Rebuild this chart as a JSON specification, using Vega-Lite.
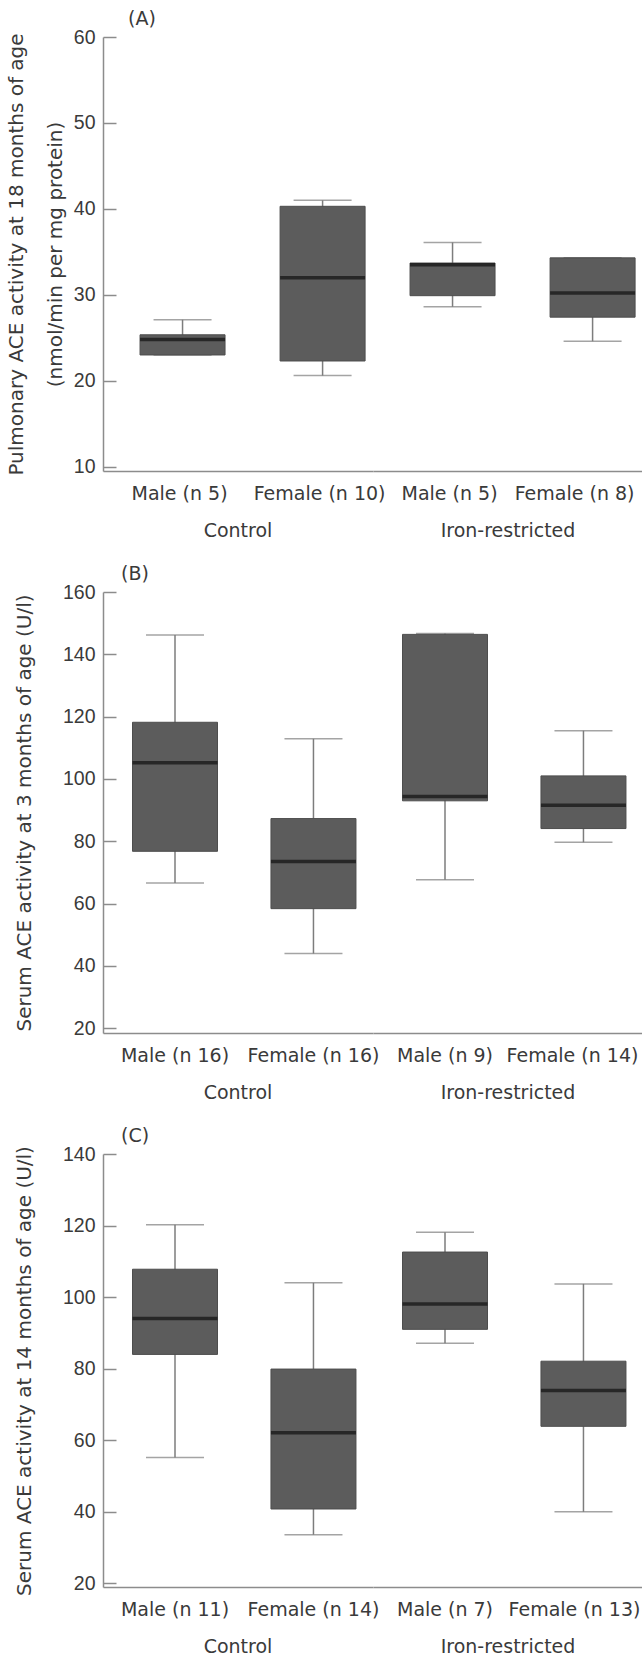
{
  "$schema": "https://vega.github.io/schema/vega-lite/v6.json",
  "padding": {"left": 6, "top": 10, "right": 0, "bottom": 0},
  "config": {
    "view": {"stroke": null},
    "font": "DejaVu Sans",
    "axis": {"domainColor": "#8c8c8c", "domainWidth": 1.5, "tickColor": "#8c8c8c", "tickWidth": 1.5, "labelColor": "#3a3a3a", "titleColor": "#3a3a3a", "grid": false, "titleFontWeight": "normal"},
    "axisX": {"ticks": false, "labelAngle": 0, "labelFontSize": 19, "labelPadding": 13, "labelFont": "DejaVu Sans"},
    "axisY": {"tickSize": -13, "labelFontSize": 19.5, "labelFont": "Liberation Sans", "labelPadding": 21, "titleFontSize": 20, "titleFont": "DejaVu Sans"},
    "header": {"labelFontSize": 19, "labelColor": "#3a3a3a", "labelFont": "DejaVu Sans", "labelPadding": 51},
    "title": {"fontSize": 19, "fontWeight": "normal", "anchor": "start", "frame": "group", "color": "#3a3a3a", "font": "DejaVu Sans", "offset": 4}
  },
  "datasets": {
    "A": [
      {"group": "Control", "label": "Male (n 5)", "min": 23.0, "q1": 23.0, "median": 24.8, "q3": 25.35, "max": 27.1},
      {"group": "Control", "label": "Female (n 10)", "min": 20.6, "q1": 22.3, "median": 32.0, "q3": 40.3, "max": 41.0},
      {"group": "Iron-restricted", "label": "Male (n 5)", "min": 28.6, "q1": 29.9, "median": 33.5, "q3": 33.7, "max": 36.1},
      {"group": "Iron-restricted", "label": "Female (n 8)", "min": 24.6, "q1": 27.4, "median": 30.2, "q3": 34.3, "max": 34.3}
    ],
    "B": [
      {"group": "Control", "label": "Male (n 16)", "min": 66.6, "q1": 76.8, "median": 105.2, "q3": 118.2, "max": 146.2},
      {"group": "Control", "label": "Female (n 16)", "min": 44.0, "q1": 58.4, "median": 73.5, "q3": 87.3, "max": 112.9},
      {"group": "Iron-restricted", "label": "Male (n 9)", "min": 67.7, "q1": 93.0, "median": 94.4, "q3": 146.4, "max": 146.7},
      {"group": "Iron-restricted", "label": "Female (n 14)", "min": 79.7, "q1": 84.1, "median": 91.6, "q3": 101.0, "max": 115.5}
    ],
    "C": [
      {"group": "Control", "label": "Male (n 11)", "min": 55.2, "q1": 84.0, "median": 94.0, "q3": 107.8, "max": 120.2},
      {"group": "Control", "label": "Female (n 14)", "min": 33.6, "q1": 40.8, "median": 62.1, "q3": 79.9, "max": 104.0},
      {"group": "Iron-restricted", "label": "Male (n 7)", "min": 87.1, "q1": 91.0, "median": 98.1, "q3": 112.6, "max": 118.1},
      {"group": "Iron-restricted", "label": "Female (n 13)", "min": 40.0, "q1": 63.9, "median": 73.9, "q3": 82.1, "max": 103.7}
    ]
  },
  "resolve": {"scale": {"x": "independent", "y": "independent"}},
  "spacing": 24,
  "vconcat": [
    {
      "data": {"name": "A"},
      "title": {"text": "(A)", "dx": 25, "dy": 6},
      "spacing": {"column": 0},
      "bounds": "flush",
      "resolve": {"scale": {"x": "independent"}},
      "facet": {"column": {"field": "group", "type": "nominal", "title": null, "sort": ["Control", "Iron-restricted"], "header": {"labelOrient": "bottom"}}},
      "spec": {
        "width": 270,
        "height": 434,
        "encoding": {
          "x": {"field": "label", "type": "nominal", "sort": null, "title": null,
                "scale": {"paddingInner": 0.28, "paddingOuter": 0.104, "align": 1},
                "axis": {"labelOffset": {"condition": {"test": "datum.value === 'Female (n 8)'", "value": -18}, "value": -3}}}
        },
        "layer": [
          {"mark": {"type": "rule", "color": "#7d7d7d", "strokeWidth": 1.5},
           "encoding": {"y": {"field": "min", "type": "quantitative", "scale": {"domain": [9.5, 60], "nice": false, "zero": false},
                              "axis": {"values": [10, 20, 30, 40, 50, 60], "title": ["Pulmonary ACE activity at 18 months of age", "(nmol/min per mg protein)"], "titlePadding": 8, "titleLineHeight": 39}},
                        "y2": {"field": "max"}}},
          {"mark": {"type": "tick", "color": "#7d7d7d", "thickness": 1.5, "size": 58},
           "encoding": {"y": {"field": "min", "type": "quantitative"}}},
          {"mark": {"type": "tick", "color": "#7d7d7d", "thickness": 1.5, "size": 58},
           "encoding": {"y": {"field": "max", "type": "quantitative"}}},
          {"mark": {"type": "bar", "size": 85, "color": "#5c5c5c", "stroke": "#4d4d4d", "strokeWidth": 1},
           "encoding": {"y": {"field": "q1", "type": "quantitative"}, "y2": {"field": "q3"}}},
          {"mark": {"type": "tick", "color": "#111111", "thickness": 3.5, "size": 85},
           "encoding": {"y": {"field": "median", "type": "quantitative"}}}
        ]
      }
    },
    {
      "data": {"name": "B"},
      "title": {"text": "(B)", "dx": 18, "dy": 6},
      "spacing": {"column": 0},
      "bounds": "flush",
      "resolve": {"scale": {"x": "independent"}},
      "facet": {"column": {"field": "group", "type": "nominal", "title": null, "sort": ["Control", "Iron-restricted"], "header": {"labelOrient": "bottom"}}},
      "spec": {
        "width": 270,
        "height": 441,
        "encoding": {
          "x": {"field": "label", "type": "nominal", "sort": null, "title": null,
                "scale": {"paddingInner": 0.14, "paddingOuter": 0.045, "align": 1},
                "axis": {"labelOffset": {"condition": {"test": "datum.value === 'Female (n 14)'", "value": -11}, "value": 0}}}
        },
        "layer": [
          {"mark": {"type": "rule", "color": "#7d7d7d", "strokeWidth": 1.5},
           "encoding": {"y": {"field": "min", "type": "quantitative", "scale": {"domain": [18.5, 160], "nice": false, "zero": false},
                              "axis": {"values": [20, 40, 60, 80, 100, 120, 140, 160], "title": "Serum ACE activity at 3 months of age (U/l)", "titlePadding": 28}},
                        "y2": {"field": "max"}}},
          {"mark": {"type": "tick", "color": "#7d7d7d", "thickness": 1.5, "size": 58},
           "encoding": {"y": {"field": "min", "type": "quantitative"}}},
          {"mark": {"type": "tick", "color": "#7d7d7d", "thickness": 1.5, "size": 58},
           "encoding": {"y": {"field": "max", "type": "quantitative"}}},
          {"mark": {"type": "bar", "size": 85, "color": "#5c5c5c", "stroke": "#4d4d4d", "strokeWidth": 1},
           "encoding": {"y": {"field": "q1", "type": "quantitative"}, "y2": {"field": "q3"}}},
          {"mark": {"type": "tick", "color": "#111111", "thickness": 3.5, "size": 85},
           "encoding": {"y": {"field": "median", "type": "quantitative"}}}
        ]
      }
    },
    {
      "data": {"name": "C"},
      "title": {"text": "(C)", "dx": 18, "dy": 6},
      "spacing": {"column": 0},
      "bounds": "flush",
      "resolve": {"scale": {"x": "independent"}},
      "facet": {"column": {"field": "group", "type": "nominal", "title": null, "sort": ["Control", "Iron-restricted"], "header": {"labelOrient": "bottom"}}},
      "spec": {
        "width": 270,
        "height": 433,
        "encoding": {
          "x": {"field": "label", "type": "nominal", "sort": null, "title": null,
                "scale": {"paddingInner": 0.14, "paddingOuter": 0.045, "align": 1},
                "axis": {"labelOffset": {"condition": {"test": "datum.value === 'Female (n 13)'", "value": -9}, "value": 0}}}
        },
        "layer": [
          {"mark": {"type": "rule", "color": "#7d7d7d", "strokeWidth": 1.5},
           "encoding": {"y": {"field": "min", "type": "quantitative", "scale": {"domain": [19, 140], "nice": false, "zero": false},
                              "axis": {"values": [20, 40, 60, 80, 100, 120, 140], "title": "Serum ACE activity at 14 months of age (U/l)", "titlePadding": 28}},
                        "y2": {"field": "max"}}},
          {"mark": {"type": "tick", "color": "#7d7d7d", "thickness": 1.5, "size": 58},
           "encoding": {"y": {"field": "min", "type": "quantitative"}}},
          {"mark": {"type": "tick", "color": "#7d7d7d", "thickness": 1.5, "size": 58},
           "encoding": {"y": {"field": "max", "type": "quantitative"}}},
          {"mark": {"type": "bar", "size": 85, "color": "#5c5c5c", "stroke": "#4d4d4d", "strokeWidth": 1},
           "encoding": {"y": {"field": "q1", "type": "quantitative"}, "y2": {"field": "q3"}}},
          {"mark": {"type": "tick", "color": "#111111", "thickness": 3.5, "size": 85},
           "encoding": {"y": {"field": "median", "type": "quantitative"}}}
        ]
      }
    }
  ]
}
